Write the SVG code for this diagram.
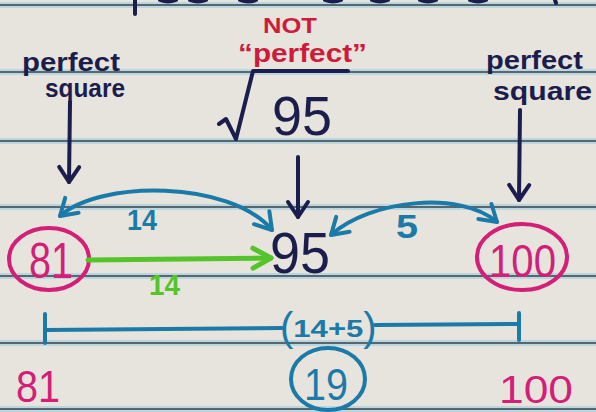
<svg xmlns="http://www.w3.org/2000/svg" width="596" height="412" viewBox="0 0 596 412">
<style>
.rule-glow{stroke:#bcd6e0;stroke-width:6;fill:none}
.rule{stroke:#56676f;stroke-width:2;fill:none}
.hand{font-family:"Liberation Sans","DejaVu Sans",sans-serif}
.b{font-weight:bold}
.navy{fill:#1b1e4d}
.pink{fill:#d31f78}
.blue{fill:#1a7aa8}
.green{fill:#55c42a}
.red{fill:#cf1b3a}
.ring-pink{fill:none;stroke:#d31f78;stroke-width:4}
.ring-blue{fill:none;stroke:#1a7aa8;stroke-width:4}
.ln-navy{fill:none;stroke:#1b1e4d;stroke-width:4;stroke-linecap:round;stroke-linejoin:round}
.ln-blue{fill:none;stroke:#1a7aa8;stroke-width:4;stroke-linecap:round;stroke-linejoin:round}
.ln-green{fill:none;stroke:#55c42a;stroke-width:5;stroke-linecap:round;stroke-linejoin:round}
</style>
<defs>
<marker id="ah-navy" markerUnits="userSpaceOnUse" markerWidth="20" markerHeight="20" refX="0" refY="0" orient="auto" style="overflow:visible">
<path d="M -15,-10 L 0,0 L -15,10" fill="none" stroke="#1b1e4d" stroke-width="4" stroke-linecap="round" stroke-linejoin="round"/>
</marker>
<marker id="ah-blue" markerUnits="userSpaceOnUse" markerWidth="20" markerHeight="20" refX="0" refY="0" orient="auto-start-reverse" style="overflow:visible">
<path d="M -16,-10 L 0,0 L -16,10" fill="none" stroke="#1a7aa8" stroke-width="4" stroke-linecap="round" stroke-linejoin="round"/>
</marker>
<marker id="ah-green" markerUnits="userSpaceOnUse" markerWidth="20" markerHeight="20" refX="0" refY="0" orient="auto" style="overflow:visible">
<path d="M -18,-10 L 0,0 L -18,10" fill="none" stroke="#55c42a" stroke-width="5" stroke-linecap="round" stroke-linejoin="round"/>
</marker>
</defs>
<rect x="0" y="0" width="596" height="412" fill="#e7e4dd"/>
<g id="paper-rules">
<path class="rule-glow" d="M0,5H596M0,72H596M0,141H596M0,207H596M0,276H596M0,343H596M0,409H596"/>
<path class="rule" d="M0,5H596M0,72H596M0,141H596M0,207H596M0,276H596M0,343H596M0,409H596"/>
</g>
<g id="cut-off-top" class="ln-navy">
<path d="M135,0 L135,14"/>
<path d="M160,0 Q168,3 176,0 M190,0 Q198,3 206,0 M240,0 Q248,3 256,0 M325,0 Q333,3 341,0 M372,0 Q380,3 388,0 M420,0 Q428,3 436,0 M470,0 Q478,3 486,0 M555,0 L556,3"/>
</g>
<g id="label-perfect-left" class="hand b navy">
<text x="22" y="71" font-size="25" textLength="98" lengthAdjust="spacingAndGlyphs">perfect</text>
<text x="45" y="97" font-size="25" textLength="80" lengthAdjust="spacingAndGlyphs">square</text>
</g>
<g id="label-not-perfect" class="hand b red">
<text x="263" y="33" font-size="22" textLength="54" lengthAdjust="spacingAndGlyphs">NOT</text>
<text x="238" y="62" font-size="25" textLength="129" lengthAdjust="spacingAndGlyphs">“perfect”</text>
</g>
<g id="radical-95">
<path class="ln-navy" d="M219,124 L226,119 L236,139 L253,71 L348,71"/>
<text class="hand navy" x="272" y="135" font-size="55" textLength="60" lengthAdjust="spacingAndGlyphs">95</text>
</g>
<g id="label-perfect-right" class="hand b navy">
<text x="486" y="69" font-size="25" textLength="97" lengthAdjust="spacingAndGlyphs">perfect</text>
<text x="493" y="100" font-size="25" textLength="99" lengthAdjust="spacingAndGlyphs">square</text>
</g>
<g id="node-81">
<ellipse class="ring-pink" cx="49" cy="259" rx="40" ry="31"/>
<text class="hand pink" x="29" y="278" font-size="50" textLength="44" lengthAdjust="spacingAndGlyphs">81</text>
</g>
<g id="node-95">
<text class="hand navy" x="270" y="273" font-size="58" textLength="60" lengthAdjust="spacingAndGlyphs">95</text>
</g>
<g id="node-100">
<ellipse class="ring-pink" cx="522" cy="257" rx="45" ry="33"/>
<text class="hand pink" x="489" y="277" font-size="46" textLength="67" lengthAdjust="spacingAndGlyphs">100</text>
</g>
<g id="connectors">
<path class="ln-navy" d="M70,102 L69,182" marker-end="url(#ah-navy)"/>
<path class="ln-navy" d="M298,157 L298,217" marker-end="url(#ah-navy)"/>
<path class="ln-navy" d="M520,110 L519,200" marker-end="url(#ah-navy)"/>
<path class="ln-blue" d="M60,216 C100,180 230,180 272,230" marker-start="url(#ah-blue)" marker-end="url(#ah-blue)"/>
<path class="ln-blue" d="M331,235 C370,200 460,190 497,222" marker-start="url(#ah-blue)" marker-end="url(#ah-blue)"/>
<path class="ln-green" d="M88,260 L271,258" marker-end="url(#ah-green)"/>
</g>
<g id="label-14-blue" class="hand b blue">
<text x="127" y="230" font-size="30" textLength="30" lengthAdjust="spacingAndGlyphs">14</text>
</g>
<g id="label-5-blue" class="hand b blue">
<text x="396" y="238" font-size="34" textLength="22" lengthAdjust="spacingAndGlyphs">5</text>
</g>
<g id="label-14-green" class="hand b green">
<text x="149" y="295" font-size="30" textLength="31" lengthAdjust="spacingAndGlyphs">14</text>
</g>
<g id="distance-bar">
<path class="ln-blue" d="M45,314 L45,343 M45,330 L282,328 M375,325 L519,324 M519,313 L519,340"/>
<text class="hand b blue" x="280" y="337" font-size="24"><tspan font-size="40" font-weight="normal" dy="4">(</tspan><tspan dy="-4" textLength="70" lengthAdjust="spacingAndGlyphs">14+5</tspan><tspan font-size="40" font-weight="normal" dy="4">)</tspan></text>
</g>
<g id="node-19">
<ellipse class="ring-blue" cx="328" cy="379" rx="37" ry="31"/>
<text class="hand blue" x="304" y="400" font-size="44" textLength="44" lengthAdjust="spacingAndGlyphs">19</text>
</g>
<g id="bottom-81" class="hand pink">
<text x="16" y="402" font-size="45" textLength="44" lengthAdjust="spacingAndGlyphs">81</text>
</g>
<g id="bottom-100" class="hand pink">
<text x="499" y="403" font-size="38" textLength="74" lengthAdjust="spacingAndGlyphs">100</text>
</g>
</svg>
